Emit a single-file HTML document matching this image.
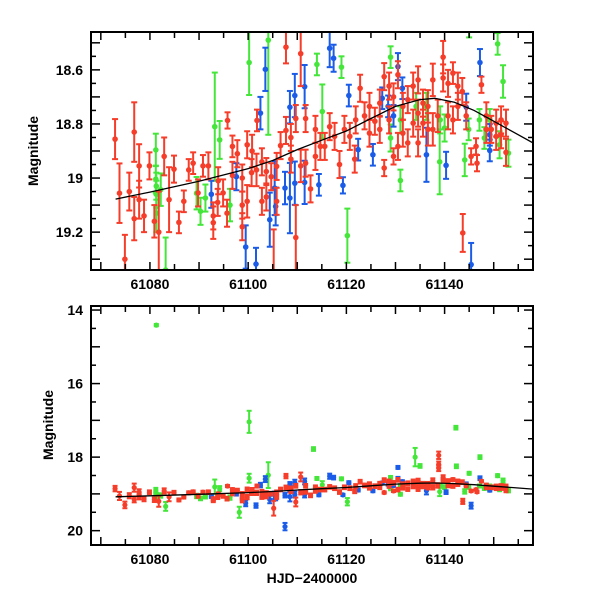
<!DOCTYPE html>
<html><head><meta charset="utf-8">
<style>
html,body{margin:0;padding:0;background:#fff;}
svg{display:block;font-family:"Liberation Sans",sans-serif;}
</style></head>
<body>
<svg id="chart" width="600" height="600" viewBox="0 0 600 600" xmlns="http://www.w3.org/2000/svg">
<g id="top"></g>
<g id="bot"></g>
<text transform="translate(38,151) rotate(-90)" text-anchor="middle" font-size="14" font-weight="bold">Magnitude</text>
<text transform="translate(53,425) rotate(-90)" text-anchor="middle" font-size="14" font-weight="bold">Magnitude</text>
<text x="312" y="583" text-anchor="middle" font-size="14" font-weight="bold">HJD−2400000</text>
</svg>
<script>
// [day, magnitude, error]
const redData = [
[61072.9,18.856,0.074],[61073.8,19.056,0.11],[61074.9,19.30,0.09],[61075.8,19.05,0.07],[61076.8,19.15,0.08],[61076.8,18.83,0.11],
[61077.8,18.955,0.08],[61077.8,19.08,0.07],[61078.8,19.14,0.06],[61079.9,18.955,0.05],[61080.9,19.16,0.06],[61081.8,19.20,0.15],
[61082.9,18.92,0.07],[61083.9,19.08,0.12],[61084.9,18.967,0.05],[61085.9,19.164,0.04],[61086.9,19.086,0.04],[61087.9,18.97,0.04],
[61088.8,18.945,0.04],[61089.8,19.055,0.05],[61090.8,18.955,0.04],[61091.9,18.955,0.05],[61092.9,19.14,0.05],[61092.9,19.165,0.06],
[61093.8,19.09,0.05],[61093.9,19.01,0.05],[61094.9,19.055,0.05],[61095.7,19.13,0.05],[61095.8,18.787,0.03],[61096.8,18.883,0.04],
[61096.8,18.99,0.05],[61097.8,18.91,0.05],[61098.8,19.00,0.05],[61098.8,19.10,0.05],[61098.8,19.18,0.05],[61099.8,18.877,0.05],
[61099.8,19.086,0.06],[61100.7,18.98,0.05],[61100.8,18.90,0.06],[61101.7,18.97,0.06],[61101.8,18.787,0.04],[61102.8,19.086,0.05],
[61102.8,18.94,0.05],[61103.7,18.976,0.05],[61103.7,19.07,0.05],[61104.7,18.995,0.05],[61105.2,19.39,0.2],[61105.8,19.086,0.05],
[61105.8,18.957,0.05],[61106.6,18.88,0.05],[61107.7,18.516,0.06],[61107.7,18.824,0.05],[61108.7,18.85,0.05],[61108.7,18.93,0.05],
[61109.7,19.22,0.12],[61109.7,18.78,0.05],[61110.7,18.54,0.12],[61110.7,18.955,0.06],[61111.7,18.78,0.05],[61111.7,18.945,0.05],
[61112.7,19.04,0.05],[61113.7,18.82,0.05],[61113.7,18.92,0.05],[61114.7,18.883,0.05],[61115.6,18.883,0.05],[61116.6,18.81,0.05],
[61117.6,18.846,0.05],[61118.6,18.95,0.05],[61119.6,18.82,0.05],[61120.7,18.846,0.05],[61121.7,18.93,0.05],[61121.9,18.785,0.05],
[61122.8,18.668,0.05],[61123.7,18.77,0.05],[61124.7,18.834,0.05],[61124.7,18.735,0.05],[61125.8,18.79,0.05],[61126.8,18.723,0.05],
[61126.8,18.82,0.05],[61127.7,18.963,0.03],[61127.7,18.625,0.05],[61128.7,18.66,0.05],[61128.7,18.785,0.05],[61129.6,18.92,0.03],
[61129.6,18.70,0.05],[61130.5,18.883,0.05],[61130.5,18.618,0.05],[61131.5,18.834,0.05],[61131.5,18.735,0.05],[61132.5,18.87,0.05],
[61132.5,18.71,0.05],[61133.6,18.797,0.05],[61133.6,18.66,0.05],[61134.6,18.87,0.05],[61134.6,18.637,0.05],[61134.6,18.76,0.05],
[61135.6,18.797,0.05],[61135.6,18.723,0.05],[61136.6,18.735,0.06],[61136.6,18.82,0.06],[61137.6,18.637,0.06],[61137.6,18.82,0.06],
[61138.6,18.77,0.06],[61138.8,17.95,0.1],[61138.8,18.2,0.08],[61138.8,18.3,0.08],[61139.7,18.553,0.06],[61139.7,18.63,0.05],
[61140.7,18.65,0.05],[61140.7,18.77,0.05],[61141.7,18.612,0.04],[61141.7,18.785,0.05],[61142.7,18.66,0.05],[61142.7,18.735,0.05],
[61143.6,18.68,0.05],[61143.7,19.203,0.07],[61144.4,18.77,0.05],[61145.4,18.92,0.03],[61146.4,18.883,0.03],[61146.6,18.945,0.03],
[61147.5,18.655,0.03],[61148.5,18.77,0.05],[61148.5,18.82,0.05],[61149.5,18.82,0.05],[61150.5,18.797,0.05],[61150.5,18.846,0.05],
[61151.5,18.84,0.05],[61151.5,18.785,0.05],[61152.5,18.905,0.05],[61152.5,18.797,0.05]
];
const blueData = [
[61092.5,19.06,0.05],[61097.6,18.995,0.05],[61099.5,19.255,0.08],[61101.6,19.318,0.06],[61102.5,18.76,0.06],[61103.5,18.598,0.08],
[61104.4,19.154,0.1],[61105.4,19.037,0.1],[61105.6,19.105,0.07],[61107.5,19.037,0.06],[61107.5,19.89,0.1],[61108.5,18.738,0.06],
[61108.5,19.074,0.13],[61109.5,18.695,0.08],[61109.5,19.019,0.08],[61111.5,18.662,0.08],[61111.5,19.016,0.08],[61114.4,19.025,0.04],
[61116.6,18.52,0.07],[61117.4,18.557,0.05],[61119.3,19.027,0.03],[61120.5,18.695,0.04],[61122.4,18.895,0.04],[61125.4,18.914,0.04],
[61127.3,18.705,0.04],[61128.5,18.735,0.04],[61129.6,18.77,0.04],[61130.5,18.588,0.05],[61130.5,18.28,0.04],[61131.4,18.668,0.04],
[61136.3,18.914,0.1],[61140.3,18.953,0.05],[61144.4,18.738,0.05],[61145.4,19.32,0.08],[61147.2,18.573,0.05],[61149.2,18.898,0.04],
[61149.2,18.84,0.04]
];
const greenData = [
[61081.2,18.896,0.06],[61081.2,19.004,0.05],[61081.3,19.03,0.05],[61081.3,19.06,0.05],[61081.3,19.13,0.07],[61081.3,14.41,0.03],
[61082.2,19.043,0.06],[61083.2,19.34,0.12],[61089.5,19.056,0.06],[61090.3,19.123,0.05],[61091.3,19.074,0.05],[61093.2,18.81,0.2],
[61094.2,18.859,0.07],[61096.3,19.10,0.06],[61098.2,19.50,0.15],[61100.2,18.573,0.12],[61100.2,17.04,0.3],[61104.1,18.49,0.35],
[61113.3,17.78,0.05],[61114.0,18.58,0.04],[61115.1,18.754,0.1],[61119.0,18.59,0.04],[61120.2,19.213,0.1],[61129.0,18.553,0.04],
[61129.0,18.852,0.05],[61131.0,19.009,0.04],[61131.0,18.785,0.05],[61134.2,18.735,0.05],[61134.0,18.0,0.25],[61135.0,18.24,0.05],
[61136.3,18.735,0.05],[61139.0,18.94,0.12],[61140.0,18.815,0.05],[61139.1,18.785,0.05],[61142.3,17.2,0.05],[61142.4,18.25,0.05],
[61144.1,18.933,0.06],[61144.9,18.82,0.04],[61145.0,18.44,0.04],[61147.1,18.785,0.04],[61147.2,18.0,0.05],[61148.1,18.852,0.04],
[61149.2,18.785,0.04],[61150.8,18.504,0.04],[61151.9,18.643,0.06],[61151.2,18.877,0.05],[61153.0,18.908,0.05]
];
const fitDays = [61073,61080,61090,61100,61105,61110,61115,61120,61125,61130,61135,61138,61142,61146,61150,61154,61158];
const fitMags = [19.078,19.052,19.012,18.965,18.935,18.895,18.86,18.826,18.78,18.735,18.71,18.705,18.72,18.75,18.79,18.83,18.87];
const xTickLabels = [61080,61100,61120,61140];
const topYTickLabels = [18.6,18.8,19,19.2];
const botYTickLabels = [14,16,18,20];

const NS='http://www.w3.org/2000/svg';
const X0=91,X1=533,D0=61068,D1=61158;
function xs(d){return X0+(d-D0)/(D1-D0)*(X1-X0);}
const panels=[
 {g:'top',T:32,B:270,m0:18.46,m1:19.34,maj:0.1,min:0.05,labels:topYTickLabels,r:2.8,cap:3,name:'top'},
 {g:'bot',T:306,B:545,m0:13.89,m1:20.39,maj:1,min:0.5,labels:botYTickLabels,r:2.6,cap:2.5,name:'bottom'}
];
function mk(tag,attrs,parent){const e=document.createElementNS(NS,tag);for(const k in attrs)e.setAttribute(k,attrs[k]);parent.appendChild(e);return e;}
panels.forEach((p,pi)=>{
 const g=document.getElementById(p.g);
 const ys=m=>p.T+(m-p.m0)/(p.m1-p.m0)*(p.B-p.T);
 const clipId='clip'+pi;
 const defs=mk('defs',{},g);
 const cp=mk('clipPath',{id:clipId},defs);
 mk('rect',{x:X0,y:p.T,width:X1-X0,height:p.B-p.T},cp);
 const plot=mk('g',{'clip-path':'url(#'+clipId+')'},g);
 
 
 const series=[['green',greenData,'#44e63a'],['blue',blueData,'#1a5ce8'],['red',redData,'#f53d2a']];
 series.forEach(([nm,data,col])=>{
  const sg=mk('g',{fill:col,stroke:col,'stroke-width':2},plot);
  
  
  data.forEach(([d,m,e])=>{
   const x=xs(d),y=ys(m),y1=ys(m-e),y2=ys(m+e);
   const pt=mk('g',{},sg);
   
   
   mk('line',{x1:x,x2:x,y1:y1,y2:y2},pt);
   mk('line',{x1:x-p.cap,x2:x+p.cap,y1:y1,y2:y1},pt);
   mk('line',{x1:x-p.cap,x2:x+p.cap,y1:y2,y2:y2},pt);
   mk('circle',{cx:x,cy:y,r:p.r,stroke:'none'},pt);
  });
 });
 let dstr='';
 fitDays.forEach((d,i)=>{dstr+=(i?'L':'M')+xs(d).toFixed(1)+','+ys(fitMags[i]).toFixed(1);});
 const fl=mk('path',{d:dstr,fill:'none',stroke:'#000','stroke-width':1.3},plot);
 
 
 const fr=mk('rect',{x:X0,y:p.T,width:X1-X0,height:p.B-p.T,fill:'none',stroke:'#000','stroke-width':2},g);
 
 
 const tk=mk('g',{stroke:'#000','stroke-width':1.5},g);
 
 
 for(let d=61070;d<=61155;d+=5){
  const x=xs(d),L=(d%10===0)?8:6;
  mk('line',{x1:x,x2:x,y1:p.B,y2:p.B-L},tk);
  mk('line',{x1:x,x2:x,y1:p.T,y2:p.T+L},tk);
 }
 const n0=Math.ceil(p.m0/p.min-1e-6),n1=Math.floor(p.m1/p.min+1e-6);
 for(let n=n0;n<=n1;n++){
  const m=n*p.min,y=ys(m);
  const isMaj=Math.abs(m/p.maj-Math.round(m/p.maj))<1e-6;
  const L=isMaj?9:5;
  mk('line',{x1:X0,x2:X0+L,y1:y,y2:y},tk);
  mk('line',{x1:X1,x2:X1-L,y1:y,y2:y},tk);
 }
 p.labels.forEach(v=>{
  const t=mk('text',{x:X0-8,y:ys(v)+5,'text-anchor':'end','font-size':14,'font-weight':'bold'},g);
  
  
  t.textContent=String(v);
 });
 xTickLabels.forEach(v=>{
  const t=mk('text',{x:xs(v),y:p.B+19,'text-anchor':'middle','font-size':14,'font-weight':'bold'},g);
  
  
  t.textContent=String(v);
 });
});
</script>
</body></html>
